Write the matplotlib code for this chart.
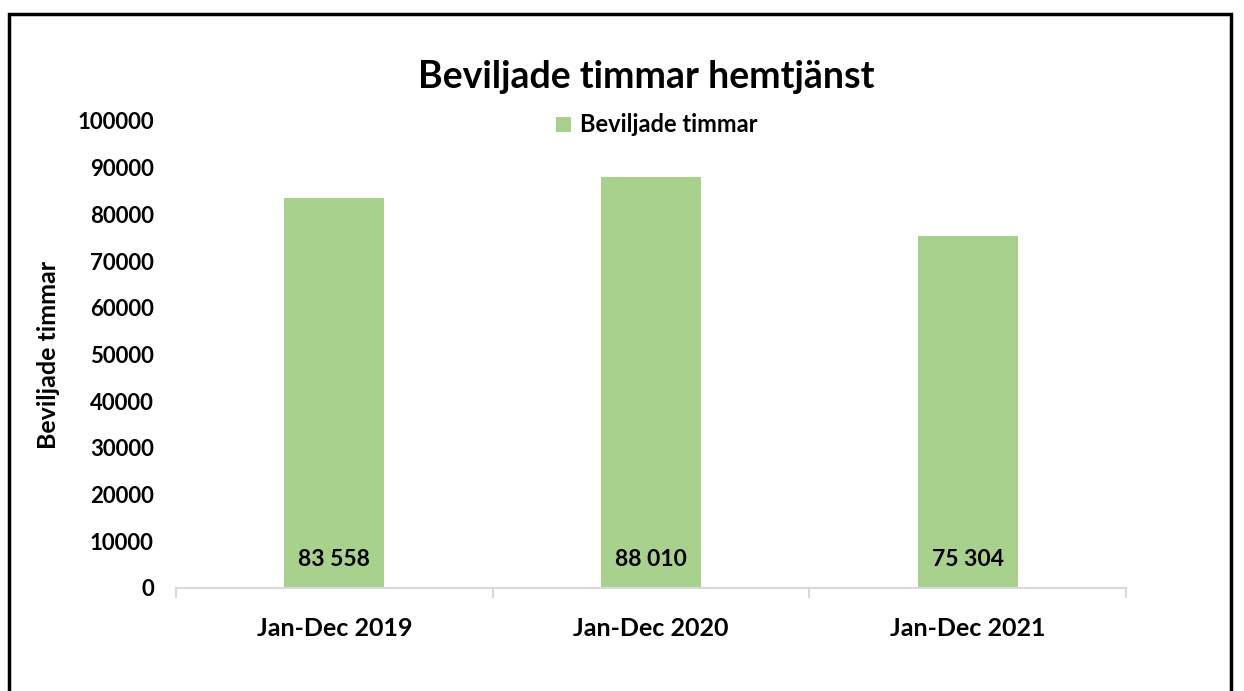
import numpy as np
import matplotlib
matplotlib.use("Agg")
import matplotlib.pyplot as plt
from matplotlib.patches import Rectangle

categories = ["Jan-Dec 2019", "Jan-Dec 2020", "Jan-Dec 2021"]
values = [83558, 88010, 75304]
series_name = "Beviljade timmar"
title = "Beviljade timmar hemtjänst"
yticks = list(range(0, 100001, 10000))

GREEN = "#a9d18e"
plt.rcParams["font.family"] = ["Lato", "DejaVu Sans"]

W, H = 1244, 691
fig = plt.figure(figsize=(W/100, H/100), dpi=100, facecolor="white")
ax = fig.add_axes([176/W, 1-588/H, (1126-176)/W, (588-121)/H])

x = np.arange(len(categories))
bars = ax.bar(x, values, width=0.315, color=GREEN, label=series_name, zorder=2)
ax.set_xlim(-0.5, len(categories)-0.5)
ax.set_ylim(0, 100000)
ax.set_yticks(yticks)
ax.set_yticklabels([str(v) for v in yticks], fontsize=16, fontweight="bold")
ax.tick_params(axis="y", length=0, pad=16)

ax.set_xticks(x)
ax.set_xticklabels(categories, fontsize=18, fontweight="bold")
ax.tick_params(axis="x", length=0, pad=21)
# category boundary ticks
ax.set_xticks(np.arange(len(categories)+1)-0.5, minor=True)
ax.tick_params(axis="x", which="minor", length=7, color="#d9d9d9", width=1.5)

for s in ["top", "right", "left"]:
    ax.spines[s].set_visible(False)
ax.spines["bottom"].set_color("#d9d9d9")
ax.spines["bottom"].set_linewidth(1.5)

for xi, v in zip(x, values):
    lab = f"{v:,}".replace(",", " ")
    ax.text(xi, 6000, lab, ha="center", va="center", fontsize=16.5, fontweight="bold", zorder=3)

ax.set_ylabel(series_name, fontsize=18, fontweight="bold", labelpad=12)

fig.text(646/W, 1-77/H, title, ha="center", va="center", fontsize=27, fontweight="bold")
fig.legend(handles=[bars], labels=[series_name], loc="center", bbox_to_anchor=(657/W, 1-125/H),
           frameon=False, prop={"weight": "bold", "size": 17},
           handlelength=0.6, handleheight=0.6, handletextpad=0.4)

fig.patches.append(Rectangle((9/W, -0.02), (1231-9)/W, 1.02-14/H, transform=fig.transFigure,
                             fill=False, edgecolor="black", linewidth=2.5))

fig.savefig("out.png", dpi=100)
